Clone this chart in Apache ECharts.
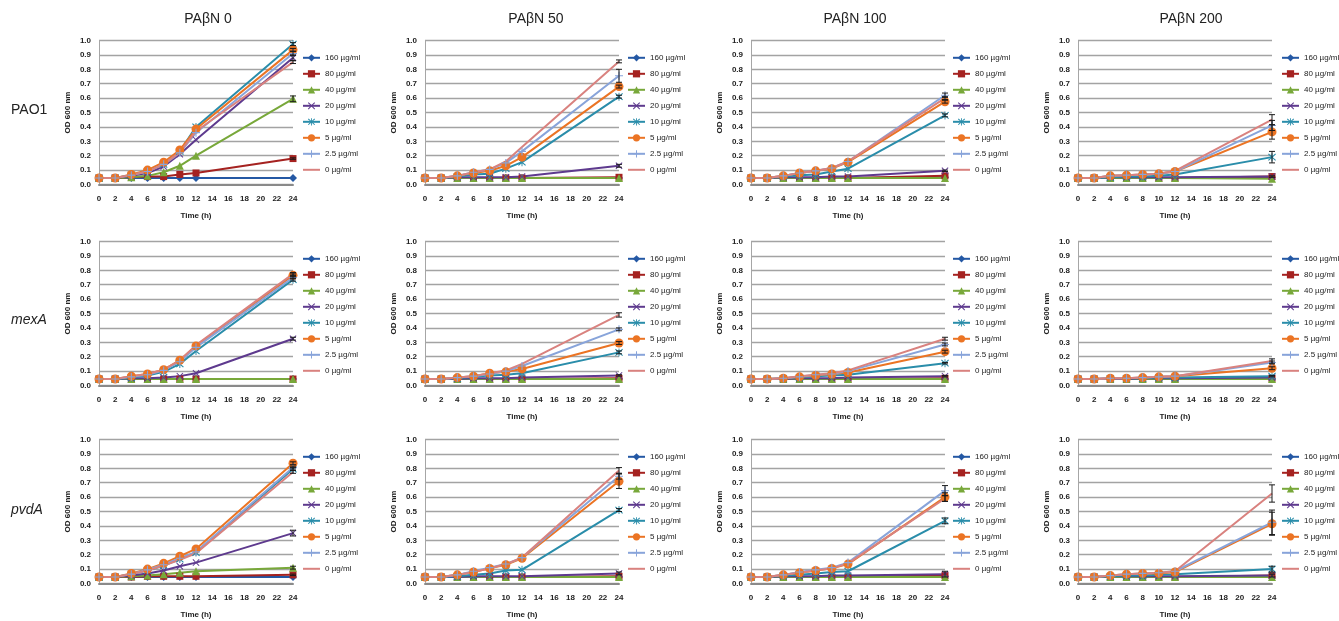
<!DOCTYPE html>
<html>
<head>
<meta charset="utf-8">
<script src="https://cdn.jsdelivr.net/npm/echarts@6/dist/echarts.min.js"></script>
<style>
  html, body { margin: 0; padding: 0; background: #fff; }
  #chart { width: 1339px; height: 621px; }
</style>
</head>
<body>
<div id="chart"></div>
<script>
// Sampling times (h) and drug concentrations
const hours = [0, 2, 4, 6, 8, 10, 12, 24];
const doses = ['160 µg/ml', '80 µg/ml', '40 µg/ml', '20 µg/ml', '10 µg/ml', '5 µg/ml', '2.5 µg/ml', '0 µg/ml'];
const strains = ['PAO1', 'mexA', 'pvdA'];
const pabnLevels = ['PAβN 0', 'PAβN 50', 'PAβN 100', 'PAβN 200'];

// OD600 readings: one row per dose (same order as `doses`), one value per time point
const pao1_pabn0 = [
  [0.045, 0.045, 0.045, 0.045, 0.045, 0.045, 0.045, 0.045],
  [0.045, 0.045, 0.050, 0.055, 0.055, 0.070, 0.080, 0.180],
  [0.045, 0.045, 0.050, 0.060, 0.085, 0.130, 0.200, 0.595],
  [0.045, 0.045, 0.060, 0.080, 0.125, 0.210, 0.310, 0.880],
  [0.045, 0.045, 0.065, 0.090, 0.140, 0.230, 0.400, 0.975],
  [0.045, 0.045, 0.070, 0.100, 0.155, 0.240, 0.385, 0.935],
  [0.045, 0.045, 0.065, 0.090, 0.140, 0.220, 0.360, 0.910],
  [0.045, 0.045, 0.065, 0.090, 0.140, 0.225, 0.370, 0.850]
];
const pao1_pabn50 = [
  [0.045, 0.045, 0.045, 0.045, 0.045, 0.045, 0.045, 0.045],
  [0.045, 0.045, 0.045, 0.045, 0.045, 0.045, 0.045, 0.050],
  [0.045, 0.045, 0.045, 0.045, 0.045, 0.045, 0.045, 0.045],
  [0.045, 0.045, 0.050, 0.050, 0.050, 0.050, 0.055, 0.130],
  [0.045, 0.045, 0.055, 0.070, 0.075, 0.110, 0.155, 0.610],
  [0.045, 0.045, 0.060, 0.080, 0.095, 0.130, 0.190, 0.680],
  [0.045, 0.045, 0.060, 0.085, 0.105, 0.150, 0.230, 0.755],
  [0.045, 0.045, 0.060, 0.085, 0.105, 0.160, 0.260, 0.855]
];
const pao1_pabn100 = [
  [0.045, 0.045, 0.045, 0.045, 0.045, 0.045, 0.045, 0.050],
  [0.045, 0.045, 0.045, 0.045, 0.045, 0.045, 0.045, 0.060],
  [0.045, 0.045, 0.045, 0.045, 0.045, 0.045, 0.045, 0.045],
  [0.045, 0.045, 0.050, 0.050, 0.050, 0.055, 0.055, 0.095],
  [0.045, 0.045, 0.055, 0.065, 0.070, 0.090, 0.110, 0.480],
  [0.045, 0.045, 0.060, 0.080, 0.095, 0.110, 0.155, 0.575],
  [0.045, 0.045, 0.060, 0.080, 0.095, 0.115, 0.160, 0.620],
  [0.045, 0.045, 0.060, 0.080, 0.095, 0.115, 0.160, 0.600]
];
const pao1_pabn200 = [
  [0.045, 0.045, 0.045, 0.045, 0.045, 0.045, 0.045, 0.050],
  [0.045, 0.045, 0.045, 0.045, 0.045, 0.045, 0.045, 0.055],
  [0.045, 0.045, 0.045, 0.045, 0.045, 0.045, 0.045, 0.040],
  [0.045, 0.045, 0.050, 0.050, 0.050, 0.050, 0.050, 0.055],
  [0.045, 0.045, 0.050, 0.055, 0.055, 0.060, 0.070, 0.190],
  [0.045, 0.045, 0.060, 0.065, 0.070, 0.075, 0.090, 0.365],
  [0.045, 0.045, 0.060, 0.065, 0.070, 0.075, 0.090, 0.410],
  [0.045, 0.045, 0.060, 0.065, 0.070, 0.075, 0.095, 0.450]
];
const mexA_pabn0 = [
  [0.045, 0.045, 0.045, 0.045, 0.045, 0.045, 0.045, 0.045],
  [0.045, 0.045, 0.045, 0.045, 0.045, 0.045, 0.045, 0.045],
  [0.045, 0.045, 0.045, 0.045, 0.045, 0.045, 0.045, 0.045],
  [0.045, 0.045, 0.050, 0.050, 0.055, 0.065, 0.085, 0.325],
  [0.045, 0.045, 0.055, 0.070, 0.095, 0.150, 0.240, 0.735],
  [0.045, 0.045, 0.065, 0.080, 0.110, 0.175, 0.275, 0.765],
  [0.045, 0.045, 0.060, 0.075, 0.105, 0.165, 0.265, 0.750],
  [0.045, 0.045, 0.065, 0.080, 0.110, 0.175, 0.280, 0.775]
];
const mexA_pabn50 = [
  [0.045, 0.045, 0.045, 0.045, 0.045, 0.045, 0.045, 0.045],
  [0.045, 0.045, 0.045, 0.045, 0.045, 0.045, 0.045, 0.050],
  [0.045, 0.045, 0.045, 0.045, 0.045, 0.045, 0.045, 0.045],
  [0.045, 0.045, 0.045, 0.050, 0.050, 0.050, 0.055, 0.070],
  [0.045, 0.045, 0.050, 0.060, 0.070, 0.075, 0.085, 0.230],
  [0.045, 0.045, 0.055, 0.065, 0.085, 0.095, 0.115, 0.295],
  [0.045, 0.045, 0.055, 0.065, 0.080, 0.100, 0.135, 0.390],
  [0.045, 0.045, 0.055, 0.065, 0.085, 0.105, 0.150, 0.490]
];
const mexA_pabn100 = [
  [0.045, 0.045, 0.045, 0.045, 0.045, 0.045, 0.045, 0.045],
  [0.045, 0.045, 0.045, 0.045, 0.045, 0.045, 0.045, 0.050],
  [0.045, 0.045, 0.045, 0.045, 0.045, 0.045, 0.045, 0.045],
  [0.045, 0.045, 0.045, 0.050, 0.050, 0.050, 0.055, 0.065],
  [0.045, 0.045, 0.050, 0.055, 0.065, 0.070, 0.075, 0.155],
  [0.045, 0.045, 0.050, 0.060, 0.070, 0.080, 0.090, 0.235],
  [0.045, 0.045, 0.050, 0.060, 0.075, 0.080, 0.100, 0.285],
  [0.045, 0.045, 0.050, 0.065, 0.075, 0.085, 0.105, 0.325]
];
const mexA_pabn200 = [
  [0.045, 0.045, 0.045, 0.045, 0.045, 0.045, 0.045, 0.045],
  [0.045, 0.045, 0.045, 0.045, 0.045, 0.045, 0.045, 0.050],
  [0.045, 0.045, 0.045, 0.045, 0.045, 0.045, 0.045, 0.045],
  [0.045, 0.045, 0.045, 0.045, 0.050, 0.050, 0.050, 0.055],
  [0.045, 0.045, 0.050, 0.050, 0.050, 0.055, 0.055, 0.065],
  [0.045, 0.045, 0.050, 0.050, 0.055, 0.060, 0.065, 0.120],
  [0.045, 0.045, 0.050, 0.050, 0.055, 0.060, 0.065, 0.160],
  [0.045, 0.045, 0.050, 0.050, 0.055, 0.060, 0.065, 0.170]
];
const pvdA_pabn0 = [
  [0.045, 0.045, 0.045, 0.045, 0.045, 0.045, 0.045, 0.045],
  [0.045, 0.045, 0.045, 0.050, 0.050, 0.050, 0.050, 0.060],
  [0.045, 0.045, 0.050, 0.055, 0.065, 0.075, 0.085, 0.110],
  [0.045, 0.045, 0.055, 0.070, 0.090, 0.120, 0.145, 0.350],
  [0.045, 0.045, 0.065, 0.090, 0.125, 0.170, 0.215, 0.795],
  [0.045, 0.045, 0.070, 0.100, 0.140, 0.190, 0.240, 0.835],
  [0.045, 0.045, 0.065, 0.095, 0.130, 0.175, 0.220, 0.805],
  [0.045, 0.045, 0.065, 0.090, 0.125, 0.165, 0.210, 0.775]
];
const pvdA_pabn50 = [
  [0.045, 0.045, 0.045, 0.045, 0.045, 0.045, 0.045, 0.045],
  [0.045, 0.045, 0.045, 0.045, 0.045, 0.045, 0.045, 0.050],
  [0.045, 0.045, 0.045, 0.045, 0.045, 0.045, 0.045, 0.045],
  [0.045, 0.045, 0.045, 0.050, 0.050, 0.050, 0.050, 0.070],
  [0.045, 0.045, 0.050, 0.060, 0.070, 0.090, 0.095, 0.510],
  [0.045, 0.045, 0.060, 0.080, 0.105, 0.130, 0.175, 0.710],
  [0.045, 0.045, 0.060, 0.085, 0.110, 0.135, 0.180, 0.745],
  [0.045, 0.045, 0.060, 0.080, 0.105, 0.135, 0.180, 0.785]
];
const pvdA_pabn100 = [
  [0.045, 0.045, 0.045, 0.045, 0.045, 0.045, 0.045, 0.050],
  [0.045, 0.045, 0.045, 0.045, 0.045, 0.045, 0.045, 0.055],
  [0.045, 0.045, 0.045, 0.045, 0.045, 0.045, 0.045, 0.045],
  [0.045, 0.045, 0.050, 0.050, 0.050, 0.055, 0.055, 0.065],
  [0.045, 0.045, 0.055, 0.060, 0.070, 0.080, 0.085, 0.435],
  [0.045, 0.045, 0.060, 0.075, 0.090, 0.105, 0.135, 0.600],
  [0.045, 0.045, 0.060, 0.080, 0.095, 0.110, 0.145, 0.645],
  [0.045, 0.045, 0.060, 0.075, 0.090, 0.105, 0.140, 0.590]
];
const pvdA_pabn200 = [
  [0.045, 0.045, 0.045, 0.045, 0.045, 0.045, 0.045, 0.045],
  [0.045, 0.045, 0.045, 0.045, 0.045, 0.045, 0.045, 0.055],
  [0.045, 0.045, 0.045, 0.045, 0.045, 0.045, 0.045, 0.045],
  [0.045, 0.045, 0.050, 0.050, 0.050, 0.050, 0.050, 0.055],
  [0.045, 0.045, 0.050, 0.055, 0.055, 0.060, 0.065, 0.100],
  [0.045, 0.045, 0.055, 0.065, 0.070, 0.070, 0.080, 0.415],
  [0.045, 0.045, 0.055, 0.065, 0.070, 0.075, 0.085, 0.425],
  [0.045, 0.045, 0.055, 0.065, 0.070, 0.075, 0.085, 0.625]
];

// Standard deviation of the 24 h reading, per dose
const pao1_pabn0_sd   = [0, 0.005, 0.02, 0.02, 0.01, 0.01, 0.015, 0.01];
const pao1_pabn50_sd  = [0, 0, 0, 0.01, 0.01, 0.01, 0.045, 0.01];
const pao1_pabn100_sd = [0, 0, 0, 0.005, 0.01, 0.01, 0.015, 0.01];
const pao1_pabn200_sd = [0, 0, 0, 0.005, 0.04, 0.05, 0.035, 0.035];
const mexA_pabn0_sd   = [0, 0, 0, 0.01, 0.01, 0.01, 0.01, 0.01];
const mexA_pabn50_sd  = [0, 0, 0, 0.005, 0.01, 0.01, 0.01, 0.015];
const mexA_pabn100_sd = [0, 0, 0, 0.005, 0.005, 0.01, 0.01, 0.01];
const mexA_pabn200_sd = [0, 0, 0, 0, 0.005, 0.01, 0.01, 0.015];
const pvdA_pabn0_sd   = [0, 0.005, 0.01, 0.02, 0.01, 0.01, 0.01, 0.01];
const pvdA_pabn50_sd  = [0, 0, 0, 0.01, 0.01, 0.05, 0.02, 0.02];
const pvdA_pabn100_sd = [0, 0, 0, 0.02, 0.02, 0.03, 0.035, 0.02];
const pvdA_pabn200_sd = [0, 0, 0, 0.01, 0.02, 0.08, 0.085, 0.06];

const panels = [
  [pao1_pabn0, pao1_pabn50, pao1_pabn100, pao1_pabn200],
  [mexA_pabn0, mexA_pabn50, mexA_pabn100, mexA_pabn200],
  [pvdA_pabn0, pvdA_pabn50, pvdA_pabn100, pvdA_pabn200]
];
const panelSd = [
  [pao1_pabn0_sd, pao1_pabn50_sd, pao1_pabn100_sd, pao1_pabn200_sd],
  [mexA_pabn0_sd, mexA_pabn50_sd, mexA_pabn100_sd, mexA_pabn200_sd],
  [pvdA_pabn0_sd, pvdA_pabn50_sd, pvdA_pabn100_sd, pvdA_pabn200_sd]
];

// ---- styling ----
const FONT = '"Liberation Sans", Arial, sans-serif';
const colors = ['#2458A4', '#A52220', '#78A83A', '#5E3A8E', '#2A8DAA', '#EB7424', '#88A4DA', '#D9827F'];
const SYM_X = 'path://M1,0L5,4L9,0L10,1L6,5L10,9L9,10L5,6L1,10L0,9L4,5L0,1Z';
const SYM_STAR = 'path://M1,0L5,4L9,0L10,1L6,5L10,9L9,10L5,6L1,10L0,9L4,5L0,1Z M4.4,-0.5H5.6V10.5H4.4Z';
const SYM_PLUS = 'path://M4.3,0H5.7V4.3H10V5.7H5.7V10H4.3V5.7H0V4.3H4.3Z';
const symbols = ['diamond', 'rect', 'triangle', SYM_X, SYM_STAR, 'circle', SYM_PLUS, 'none'];
const symbolSizes = [8, 7, 8, 7, 8, 9, 8, 0];

const colLeft = [99, 425, 751, 1078];
const plotWidth = 194;
const rowTop = [40.5, 241.5, 439.5];
const plotHeight = 144;
const legendLeft = [302, 627, 952, 1281];

// legend entries: the untreated control is drawn as a plain line, without a marker
const legendData = doses.map((d, k) =>
  symbols[k] === 'none' ? { name: d, itemStyle: { opacity: 0 } } : { name: d });

const grids = [], xAxes = [], yAxes = [], series = [], legends = [];

strains.forEach((strain, r) => {
  pabnLevels.forEach((lvl, c) => {
    const gi = r * 4 + c;
    grids.push({ left: colLeft[c], top: rowTop[r], width: plotWidth, height: plotHeight });
    xAxes.push({
      gridIndex: gi, type: 'value', min: 0, max: 24, interval: 2,
      name: 'Time (h)', nameLocation: 'middle', nameGap: 27,
      nameTextStyle: { fontFamily: FONT, fontSize: 8, fontWeight: 'bold', color: '#222' },
      axisLine: { show: true, lineStyle: { color: '#8a8a8a', width: 2 } },
      axisTick: { show: false },
      splitLine: { show: false },
      axisLabel: { fontFamily: FONT, fontSize: 8, fontWeight: 'bold', color: '#222', margin: 10,
                   showMinLabel: true, showMaxLabel: true, hideOverlap: false }
    });
    yAxes.push({
      gridIndex: gi, type: 'value', min: 0, max: 1, interval: 0.1,
      name: 'OD 600 nm', nameLocation: 'middle', nameGap: 27, nameRotate: 90,
      nameTextStyle: { fontFamily: FONT, fontSize: 8, fontWeight: 'bold', color: '#222' },
      axisLine: { show: true, lineStyle: { color: '#a6a6a6', width: 1 } },
      axisTick: { show: false },
      splitLine: { show: true, lineStyle: { color: '#a3a3a3', width: 1.3 } },
      axisLabel: { fontFamily: FONT, fontSize: 8, fontWeight: 'bold', color: '#222', margin: 8,
                   formatter: v => v.toFixed(1), showMinLabel: true, showMaxLabel: true, hideOverlap: false }
    });

    const values = panels[r][c];
    doses.forEach((dose, k) => {
      series.push({
        type: 'line', name: dose, xAxisIndex: gi, yAxisIndex: gi,
        data: hours.map((h, i) => [h, values[k][i]]),
        symbol: symbols[k], symbolSize: symbolSizes[k], showSymbol: symbols[k] !== 'none',
        showAllSymbol: true, clip: false, animation: false,
        lineStyle: { color: colors[k], width: 2 },
        itemStyle: { color: colors[k], borderWidth: 0 },
        emphasis: { disabled: true }
      });
    });

    // error bars at 24 h
    const sd = panelSd[r][c];
    const errData = [];
    doses.forEach((dose, k) => {
      if (sd[k] > 0) errData.push([24, values[k][7], sd[k]]);
    });
    series.push({
      type: 'custom', xAxisIndex: gi, yAxisIndex: gi, silent: true, animation: false, z: 5,
      data: errData, encode: { x: 0, y: 1 },
      renderItem: (params, api) => {
        const x = api.value(0), y = api.value(1), e = api.value(2);
        const hi = api.coord([x, y + e]), lo = api.coord([x, y - e]);
        const w = 3, st = { stroke: '#1a1a1a', lineWidth: 1 };
        return {
          type: 'group', children: [
            { type: 'line', shape: { x1: hi[0], y1: hi[1], x2: lo[0], y2: lo[1] }, style: st },
            { type: 'line', shape: { x1: hi[0] - w, y1: hi[1], x2: hi[0] + w, y2: hi[1] }, style: st },
            { type: 'line', shape: { x1: lo[0] - w, y1: lo[1], x2: lo[0] + w, y2: lo[1] }, style: st }
          ]
        };
      }
    });

    legends.push({
      orient: 'vertical', left: legendLeft[c], top: rowTop[r] + 12.8,
      data: legendData, itemWidth: 17, itemHeight: 9, itemGap: 7, padding: 0,
      selectedMode: false,
      textStyle: { fontFamily: FONT, fontSize: 8, color: '#222', lineHeight: 9 }
    });
  });
});

const graphics = [];
const titleX = [208, 536, 855, 1191];
pabnLevels.forEach((lvl, c) => {
  graphics.push({ type: 'text', x: titleX[c], y: 19,
    style: { text: lvl, fontFamily: FONT, fontSize: 14, fill: '#222', textAlign: 'center', textVerticalAlign: 'middle' } });
});
const rowLabelY = [110, 320, 510];
strains.forEach((s, r) => {
  graphics.push({ type: 'text', x: 11, y: rowLabelY[r],
    style: { text: s, fontFamily: FONT, fontSize: 14, fontStyle: r === 0 ? 'normal' : 'italic',
             fill: '#222', textAlign: 'left', textVerticalAlign: 'middle' } });
});

const chart = echarts.init(document.getElementById('chart'), null, { renderer: 'canvas' });
chart.setOption({
  animation: false,
  backgroundColor: '#ffffff',
  grid: grids, xAxis: xAxes, yAxis: yAxes,
  legend: legends, series: series, graphic: graphics
});
</script>
</body>
</html>
